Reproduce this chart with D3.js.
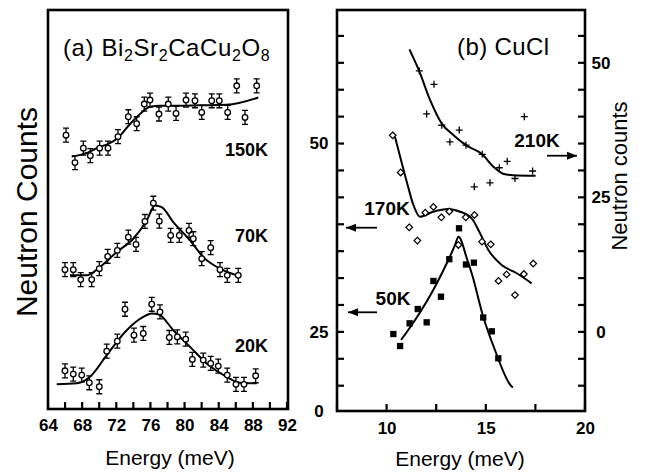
<!DOCTYPE html>
<html><head><meta charset="utf-8">
<script src="https://cdn.jsdelivr.net/npm/d3@7"></script>
<style>
body{margin:0;background:#fff}
svg{display:block}
text{font-family:"Liberation Sans",Arial,Helvetica,sans-serif;fill:#000}
</style>
</head><body>
<svg id="c" width="650" height="472"></svg>
<script>
// ---------- Panel (a): Bi2Sr2CaCu2O8 (energy meV, counts arb.) ----------
const aTicks = [64,66,68,70,72,74,76,78,80,82,84,86,88,90,92];
const aTickLabels = [64,68,72,76,80,84,88,92];
const a150K = [[66.11,274.5],[67.16,247],[68.14,261.5],[68.96,254],[70.05,261.5],[71.03,261.5],[72.20,273],[73.41,293],[74.39,286],[75.28,305.7],[75.95,309.7],[77.00,295.7],[78.09,305.7],[79.0,296.3],[80.17,309.7],[81.22,309],[82.01,297.3],[83.18,309],[84.07,309],[85.05,297.3],[86.11,324],[87.08,292.3],[88.45,324]];
const fit150K = [[66.77,253],[68.72,257.3],[69.89,262.3],[71.06,265.7],[72.24,272.3],[73.61,285.7],[74.78,295.7],[75.95,303],[77.12,304],[78.68,304],[81.81,304.5],[84.93,305],[88.64,312.3]];
const a70K = [[65.99,139.7],[66.96,139.7],[67.83,129.7],[69.12,129.7],[70.01,140.7],[70.99,153],[72.12,159],[73.41,172.3],[74.31,165],[75.36,188],[76.34,206.3],[77.04,188.3],[78.37,174],[79.38,174],[80.52,179],[81.02,170.7],[82.01,150.7],[83.06,161.7],[84.15,139.7],[85.0,134],[86.29,134]];
const fit70K = [[66.58,134],[68.53,134],[70.09,142.3],[72.05,157.3],[73.99,170.7],[75.56,189],[76.53,204],[77.32,202.3],[78.68,187.3],[80.64,169],[82.19,152.3],[84.15,140.7],[86.11,134]];
const a20K = [[65.99,38.3],[66.96,35],[67.95,34],[68.84,26.3],[70.01,22.3],[70.88,58],[72.12,68],[73.02,100],[74.07,74],[75.16,75.7],[76.15,105],[77.12,97.3],[78.21,71.7],[79.15,72.3],[80.13,70],[80.91,49.7],[82.19,49],[83.06,45.7],[83.95,43],[85.0,34],[86.02,24.7],[86.96,24.7],[88.33,33.3]];
const fit20K = [[65.02,24.7],[67.36,25.7],[68.92,32.3],[70.88,54],[73.22,79],[75.16,92.3],[76.15,95.7],[76.92,95],[78.68,79],[80.64,62.3],[82.59,45.7],[84.93,32.3],[86.49,26.3],[88.45,25.7]];
const aErr = 7;

// ---------- Panel (b): CuCl ----------
const bTicks = [7.5,10,12.5,15,17.5,20];
const bTickLabels = [10,15,20];
const rightTicks = [-10,-5,0,5,10,15,20,25,30,35,40,45,50,55];
const rightLabels = [0,25,50];
const leftLabels = [0,25,50];
// 210K read on right axis
const b210K = [[11.65,48.5],[12.02,40.5],[12.39,46.0],[12.78,38.4],[13.19,35.3],[13.66,37.5],[14.0,34.7],[14.42,26.95],[14.82,33.0],[15.21,27.7],[15.68,30.5],[16.08,31.7],[16.47,28.5],[16.94,40.0],[17.36,29.9]];
const fit210K = [[11.15,52.5],[11.64,48.5],[12.19,43.1],[12.78,38.7],[13.36,36.6],[14.0,34.7],[14.82,33.0],[15.38,30.7],[15.87,29.4],[16.37,29.1],[17.51,29.0]];
// 170K and 50K read on left axis
const b170K = [[10.31,50.98],[10.71,46.06],[11.14,38.81],[11.55,37.06],[11.95,40.74],[12.36,41.50],[12.76,40.13],[13.16,40.90],[13.62,36.47],[13.99,40.13],[14.43,40.44],[14.81,36.91],[15.25,36.56],[15.64,31.71],[16.05,32.57],[16.47,29.85],[16.92,32.63],[17.39,34.02]];
const fit170K = [[10.42,50.8],[10.51,49.9],[11.04,44.6],[11.35,41.76],[11.68,40.21],[12.35,40.87],[13.11,41.23],[13.70,40.87],[14.29,40.0],[14.71,38.02],[15.13,35.81],[15.80,33.82],[16.56,32.73],[17.31,31.40]];
const b50K = [[10.34,24.27],[10.68,20.49],[11.16,26.11],[11.57,28.0],[12.02,26.24],[12.36,31.71],[12.74,29.63],[13.16,34.59],[13.65,38.68],[14.0,33.89],[14.40,34.13],[14.87,26.88],[15.30,25.05],[15.63,16.61]];
const fit50K = [[10.73,22.38],[11.60,27.21],[12.44,30.95],[13.11,34.48],[13.45,36.47],[13.62,37.57],[14.07,34.48],[14.29,32.73],[14.87,26.98],[15.46,19.23],[16.18,8.73],[16.36,7.35]];

const svg = d3.select("#c");
const FW = 2.6, TK = 7, TW = 2.2;
const FONT = "Liberation Sans, Arial, sans-serif";

// ---------- scales ----------
const xA = d3.scaleLinear().domain([64,92]).range([48,287]);
const yA = d3.scaleLinear().domain([0,400]).range([409,10]);
const xB = d3.scaleLinear().domain([7.5,20]).range([337,585]);
const yR = d3.scaleLinear().domain([-14.7,60]).range([411,9]);
const yL = d3.scaleLinear().domain([0,25,50]).range([411,331.7,142.7]);

function styleAxis(g){
  g.select(".domain").remove();
  g.selectAll(".tick line").remove();
  g.selectAll("text").attr("font-size",17).attr("font-weight","bold").attr("font-family",FONT).attr("fill","#000");
}
function tickMarks(g, list){
  g.append("g").selectAll("line").data(list).join("line")
    .attr("x1",d=>d[0]).attr("y1",d=>d[1]).attr("x2",d=>d[2]).attr("y2",d=>d[3])
    .attr("stroke","#000").attr("stroke-width",TW);
}

// ---------- panel a ----------
const gA = svg.append("g");
gA.append("rect").attr("x",48).attr("y",10).attr("width",240).attr("height",399)
  .attr("fill","none").attr("stroke","#000").attr("stroke-width",FW);
gA.append("g").attr("transform","translate(0,409)")
  .call(d3.axisBottom(xA).tickValues(aTickLabels).tickSize(0).tickPadding(10))
  .call(styleAxis);
tickMarks(gA, aTicks.map(v=>[xA(v),409,xA(v),409-TK]));

const lineA = d3.line().x(d=>xA(d[0])).y(d=>yA(d[1])).curve(d3.curveMonotoneX);
[fit150K, fit70K, fit20K].forEach(f=>{
  gA.append("path").attr("d",lineA(f)).attr("fill","none").attr("stroke","#000").attr("stroke-width",2);
});
[a150K, a70K, a20K].forEach(s=>{
  const g = gA.append("g");
  const pts = g.selectAll("g").data(s).join("g");
  pts.append("path")
    .attr("d",d=>{const x=xA(d[0]), y1=yA(d[1]+aErr), y2=yA(d[1]-aErr);
      return `M${x},${y1}V${y2}M${x-3},${y1}H${x+3}M${x-3},${y2}H${x+3}`;})
    .attr("stroke","#000").attr("stroke-width",1.3).attr("fill","none");
  pts.append("circle").attr("cx",d=>xA(d[0])).attr("cy",d=>yA(d[1])).attr("r",2.8)
    .attr("fill","#fff").attr("stroke","#000").attr("stroke-width",1.3);
});

// title a
const tA = gA.append("text").attr("x",63).attr("y",56).attr("font-size",24).attr("letter-spacing",0.6);
const parts = [["(a) Bi",0],["2",1],["Sr",0],["2",1],["CaCu",0],["2",1],["O",0],["8",1]];
parts.forEach(([t,sub],i)=>{
  const prevSub = i>0 ? parts[i-1][1] : 0;
  tA.append("tspan").text(t).attr("font-size", sub?16:24)
    .attr("dy", sub && !prevSub ? 5 : (!sub && prevSub ? -5 : 0));
});

const tempA = [["150K",156],["70K",241.5],["20K",351.5]];
tempA.forEach(([t,y])=>{
  gA.append("text").attr("x",268).attr("y",y).attr("text-anchor","end")
    .attr("font-size",18).attr("font-weight","bold").text(t);
});

gA.append("text").attr("x",170).attr("y",465).attr("text-anchor","middle").attr("font-size",21).text("Energy (meV)");
gA.append("text").attr("transform","translate(37,212) rotate(-90)").attr("text-anchor","middle")
  .attr("font-size",30).text("Neutron Counts");

// ---------- panel b ----------
const gB = svg.append("g");
gB.append("rect").attr("x",337).attr("y",10).attr("width",248).attr("height",401)
  .attr("fill","none").attr("stroke","#000").attr("stroke-width",FW);
gB.append("g").attr("transform","translate(0,411)")
  .call(d3.axisBottom(xB).tickValues(bTickLabels).tickSize(0).tickPadding(11))
  .call(styleAxis);
tickMarks(gB, bTicks.map(v=>[xB(v),411,xB(v),411-TK]));

gB.append("g").attr("transform","translate(337,0)")
  .call(d3.axisLeft(yL).tickValues(leftLabels).tickSize(0).tickPadding(18))
  .call(styleAxis)
  .call(g => g.selectAll("text").attr("text-anchor","middle"));
tickMarks(gB, rightTicks.map(v=>[337,yR(v),337+TK,yR(v)]));

gB.append("g").attr("transform","translate(585,0)")
  .call(d3.axisRight(yR).tickValues(rightLabels).tickSize(0).tickPadding(16))
  .call(styleAxis)
  .call(g => g.selectAll("text").attr("text-anchor","middle"));
tickMarks(gB, rightTicks.map(v=>[585,yR(v),585-TK,yR(v)]));

const lineR = d3.line().x(d=>xB(d[0])).y(d=>yR(d[1])).curve(d3.curveMonotoneX);
const lineL = d3.line().x(d=>xB(d[0])).y(d=>yL(d[1])).curve(d3.curveMonotoneX);
gB.append("path").attr("d",lineR(fit210K)).attr("fill","none").attr("stroke","#000").attr("stroke-width",2);
gB.append("path").attr("d",lineL(fit170K)).attr("fill","none").attr("stroke","#000").attr("stroke-width",2);
gB.append("path").attr("d",lineL(fit50K)).attr("fill","none").attr("stroke","#000").attr("stroke-width",2);

gB.append("g").selectAll("path").data(b210K).join("path")
  .attr("transform",d=>`translate(${xB(d[0])},${yR(d[1])})`)
  .attr("d","M-3.5,0H3.5M0,-3.5V3.5").attr("stroke","#000").attr("stroke-width",1.3);
gB.append("g").selectAll("path").data(b170K).join("path")
  .attr("transform",d=>`translate(${xB(d[0])},${yL(d[1])})`)
  .attr("d","M0,-3.3L3.3,0L0,3.3L-3.3,0Z").attr("fill","#fff").attr("stroke","#000").attr("stroke-width",1.2);
gB.append("g").selectAll("path").data(b50K).join("path")
  .attr("transform",d=>`translate(${xB(d[0])},${yL(d[1])})`)
  .attr("d",d3.symbol(d3.symbolSquare,40)()).attr("fill","#000");

gB.append("text").attr("x",457).attr("y",55).attr("font-size",24).attr("letter-spacing",0.4).text("(b) CuCl");

const tempB = [["210K",537,147],["170K",387,215],["50K",393,305]];
tempB.forEach(([t,x,y])=>{
  gB.append("text").attr("x",x).attr("y",y).attr("text-anchor","middle")
    .attr("font-size",19).attr("font-weight","bold").text(t);
});
function arrow(x1,x2,y){
  gB.append("line").attr("x1",x1).attr("x2",x2).attr("y1",y).attr("y2",y).attr("stroke","#000").attr("stroke-width",1.8);
  const dir = Math.sign(x2-x1);
  gB.append("path").attr("d",`M${x2},${y}L${x2-dir*10},${y-4}L${x2-dir*10},${y+4}Z`).attr("fill","#000");
}
arrow(547,577,155.7);
arrow(377,346,227.7);
arrow(377,348,312.3);

gB.append("text").attr("x",460).attr("y",466).attr("text-anchor","middle").attr("font-size",21).text("Energy (meV)");
gB.append("text").attr("transform","translate(627,176) rotate(-90)").attr("text-anchor","middle")
  .attr("font-size",22).text("Neutron counts");
</script>
</body></html>
